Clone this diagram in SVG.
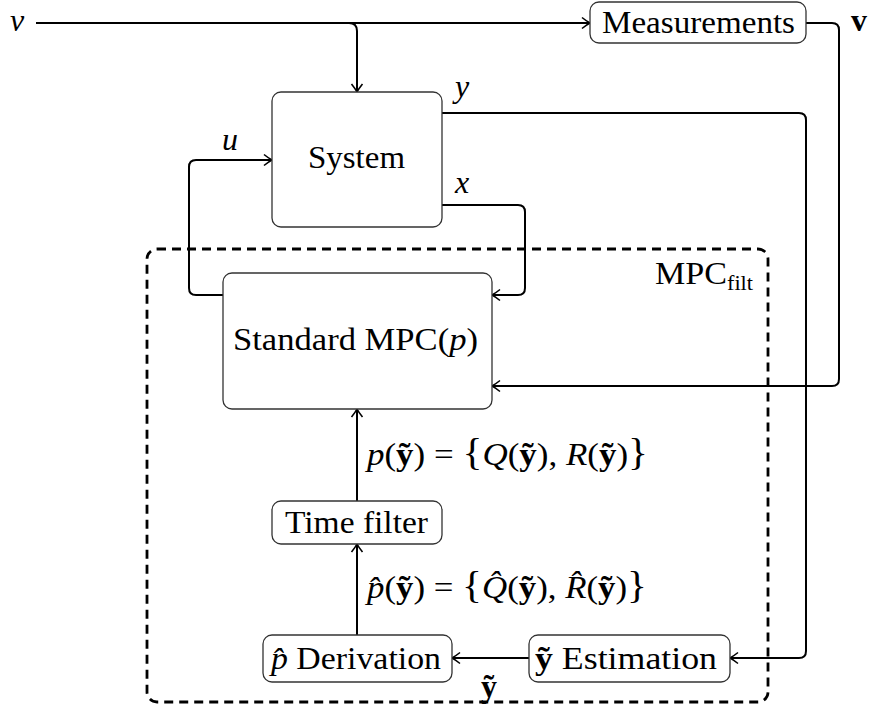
<svg xmlns="http://www.w3.org/2000/svg" width="869" height="710" viewBox="0 0 869 710">
<defs>
<marker id="arr" markerWidth="14" markerHeight="14" refX="11" refY="7" orient="auto" markerUnits="userSpaceOnUse">
<path d="M3,1.5 Q8,5.5 11,7 Q8,8.5 3,12.5" fill="none" stroke="#000" stroke-width="1.6"/>
</marker>
</defs>
<rect width="869" height="710" fill="#fff"/>

<g id="mpcfilt" font-family="Liberation Serif, serif" fill="#000">
<rect x="147" y="249" width="621" height="453" rx="10" fill="none" stroke="#000" stroke-width="2.8" stroke-dasharray="9 6"/>
<text x="655" y="284" font-size="32" textLength="72" lengthAdjust="spacingAndGlyphs">MPC</text>
<text x="727" y="290" font-size="20" textLength="26" lengthAdjust="spacingAndGlyphs">filt</text>
</g>

<g id="connectors" fill="none" stroke="#000" stroke-width="2" marker-end="url(#arr)">
<path d="M36,23 H590"/>
<path d="M36,23 H349 Q357,23 357,31 V92"/>
<path d="M806,23 H832 Q839,23 839,30 V379 Q839,386 832,386 H492"/>
<path d="M442,113 H799 Q806,113 806,120 V651 Q806,658 799,658 H730"/>
<path d="M442,205 H518 Q525,205 525,212 V288 Q525,295 518,295 H492"/>
<path d="M223,295 H196 Q189,295 189,288 V167 Q189,160 196,160 H272"/>
<path d="M357,501 V409"/>
<path d="M357,635 V544"/>
<path d="M529,658 H452"/>
</g>

<g id="labels" font-family="Liberation Serif, serif" font-size="32" fill="#000">
<text font-style="italic" x="10" y="31">v</text>
<text font-weight="bold" x="851" y="31">v</text>
<text font-style="italic" x="222" y="150">u</text>
<text font-style="italic" x="455" y="97">y</text>
<text font-style="italic" x="455" y="193">x</text>
<text font-weight="bold" x="489" y="697" text-anchor="middle">ỹ</text>
<text x="367" y="465" textLength="281" lengthAdjust="spacingAndGlyphs"><tspan font-style="italic">p</tspan>(<tspan font-weight="bold">ỹ</tspan>) = <tspan font-size="38">{</tspan><tspan font-style="italic">Q</tspan>(<tspan font-weight="bold">ỹ</tspan>), <tspan font-style="italic">R</tspan>(<tspan font-weight="bold">ỹ</tspan>)<tspan font-size="38">}</tspan></text>
<text x="367" y="598" textLength="280" lengthAdjust="spacingAndGlyphs"><tspan font-style="italic">p̂</tspan>(<tspan font-weight="bold">ỹ</tspan>) = <tspan font-size="38">{</tspan><tspan font-style="italic">Q̂</tspan>(<tspan font-weight="bold">ỹ</tspan>), <tspan font-style="italic">R̂</tspan>(<tspan font-weight="bold">ỹ</tspan>)<tspan font-size="38">}</tspan></text>
</g>

<g id="measurements" font-family="Liberation Serif, serif" font-size="32">
<rect x="590" y="2" width="216" height="41" rx="9" fill="#fff" stroke="#333" stroke-width="1.3"/>
<text x="602" y="33" fill="#000" textLength="193" lengthAdjust="spacingAndGlyphs">Measurements</text>
</g>

<g id="system" font-family="Liberation Serif, serif" font-size="32">
<rect x="272" y="92" width="170" height="135" rx="9" fill="#fff" stroke="#333" stroke-width="1.3"/>
<text x="308" y="168" fill="#000" textLength="97" lengthAdjust="spacingAndGlyphs">System</text>
</g>

<g id="standard-mpc" font-family="Liberation Serif, serif" font-size="32">
<rect x="223" y="273" width="269" height="136" rx="9" fill="#fff" stroke="#333" stroke-width="1.3"/>
<text x="233" y="350" fill="#000" textLength="245" lengthAdjust="spacingAndGlyphs">Standard MPC(<tspan font-style="italic">p</tspan>)</text>
</g>

<g id="time-filter" font-family="Liberation Serif, serif" font-size="32">
<rect x="272" y="501" width="170" height="43" rx="9" fill="#fff" stroke="#333" stroke-width="1.3"/>
<text x="285" y="533" fill="#000" textLength="143" lengthAdjust="spacingAndGlyphs">Time filter</text>
</g>

<g id="p-derivation" font-family="Liberation Serif, serif" font-size="32">
<rect x="263" y="635" width="189" height="47" rx="9" fill="#fff" stroke="#333" stroke-width="1.3"/>
<text x="271" y="669" fill="#000" textLength="170" lengthAdjust="spacingAndGlyphs"><tspan font-style="italic">p̂</tspan> Derivation</text>
</g>

<g id="y-estimation" font-family="Liberation Serif, serif" font-size="32">
<rect x="529" y="635" width="201" height="47" rx="9" fill="#fff" stroke="#333" stroke-width="1.3"/>
<text x="535" y="669" fill="#000" textLength="182" lengthAdjust="spacingAndGlyphs"><tspan font-weight="bold">ỹ</tspan> Estimation</text>
</g>
</svg>
